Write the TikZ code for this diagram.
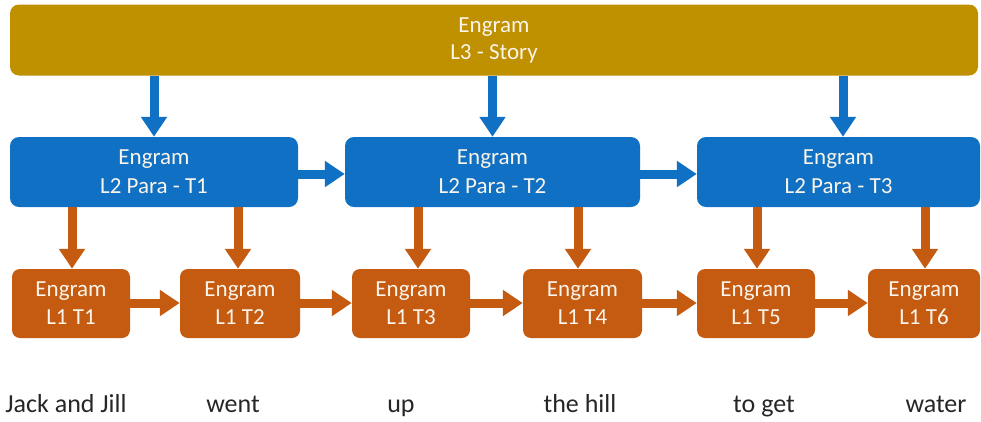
\documentclass[tikz,border=0pt]{standalone}
\usepackage{fontspec}
\setmainfont{Carlito}
\usetikzlibrary{arrows.meta}
\definecolor{gold}{HTML}{BF9000}
\definecolor{bblue}{HTML}{1070C4}
\definecolor{orng}{HTML}{C55A11}
\definecolor{txtw}{HTML}{FAF4EA}
\begin{document}
\begin{tikzpicture}[x=1pt,y=-1pt,
  box/.style={rounded corners=9pt, inner sep=0pt, text=txtw, align=center,
    font=\fontsize{23}{29}\selectfont},
  l3box/.style={box, fill=gold, font=\fontsize{23}{27}\selectfont},
  l2box/.style={box, fill=bblue},
  l1box/.style={box, fill=orng, rounded corners=8pt, font=\fontsize{23}{28}\selectfont},
  barr/.style={draw=bblue, line width=9pt, -{Triangle[width=25pt,length=20pt]}},
  oarr/.style={draw=orng, line width=9pt, -{Triangle[width=25pt,length=20pt]}},
  word/.style={anchor=base, inner sep=0pt, font=\fontsize{26}{30}\selectfont, text=black!85}
]
\useasboundingbox (0,0) rectangle (981,421);
% L3
\node[l3box, minimum width=968pt, minimum height=71pt] (l3) at (494,40) {Engram\\L3 - Story};
% L2
\node[l2box, minimum width=288pt, minimum height=70pt] (p1) at (154,172) {Engram\\L2 Para - T1};
\node[l2box, minimum width=295pt, minimum height=70pt] (p2) at (492.5,172) {Engram\\L2 Para - T2};
\node[l2box, minimum width=283pt, minimum height=70pt] (p3) at (838.5,172) {Engram\\L2 Para - T3};
% L1
\node[l1box, minimum width=118pt, minimum height=69pt] (t1) at (71,303.5) {Engram\\L1 T1};
\node[l1box, minimum width=120pt, minimum height=69pt] (t2) at (240,303.5) {Engram\\L1 T2};
\node[l1box, minimum width=118pt, minimum height=69pt] (t3) at (411,303.5) {Engram\\L1 T3};
\node[l1box, minimum width=119pt, minimum height=69pt] (t4) at (582.5,303.5) {Engram\\L1 T4};
\node[l1box, minimum width=118pt, minimum height=69pt] (t5) at (756,303.5) {Engram\\L1 T5};
\node[l1box, minimum width=112pt, minimum height=69pt] (t6) at (924,303.5) {Engram\\L1 T6};
% words
\node[word] (w1) at (66,412) {Jack and Jill};
\node[word] (w2) at (233,412) {went};
\node[word] (w3) at (401,412) {up};
\node[word] (w4) at (580,412) {the hill};
\node[word] (w5) at (764,412) {to get};
\node[word] (w6) at (936,412) {water};
% L3 -> L2 arrows
\draw[barr] (l3.south -| p1.north) -- (p1.north);
\draw[barr] (l3.south -| p2.north) -- (p2.north);
\draw[barr] (l3.south -| 843,0) -- (p3.north -| 843,0);
% L2 -> L2
\draw[barr] (p1.east |- 0,174) -- (p2.west |- 0,174);
\draw[barr] (p2.east |- 0,174) -- (p3.west |- 0,174);
% L2 -> L1
\draw[oarr] (p1.south -| 72,0) -- (t1.north -| 72,0);
\draw[oarr] (p1.south -| 238,0) -- (t2.north -| 238,0);
\draw[oarr] (p2.south -| 418,0) -- (t3.north -| 418,0);
\draw[oarr] (p2.south -| 578,0) -- (t4.north -| 578,0);
\draw[oarr] (p3.south -| 757,0) -- (t5.north -| 757,0);
\draw[oarr] (p3.south -| 925,0) -- (t6.north -| 925,0);
% L1 -> L1
\draw[oarr] (t1.east |- 0,303) -- (t2.west |- 0,303);
\draw[oarr] (t2.east |- 0,303) -- (t3.west |- 0,303);
\draw[oarr] (t3.east |- 0,303) -- (t4.west |- 0,303);
\draw[oarr] (t4.east |- 0,303) -- (t5.west |- 0,303);
\draw[oarr] (t5.east |- 0,303) -- (t6.west |- 0,303);
\end{tikzpicture}
\end{document}
